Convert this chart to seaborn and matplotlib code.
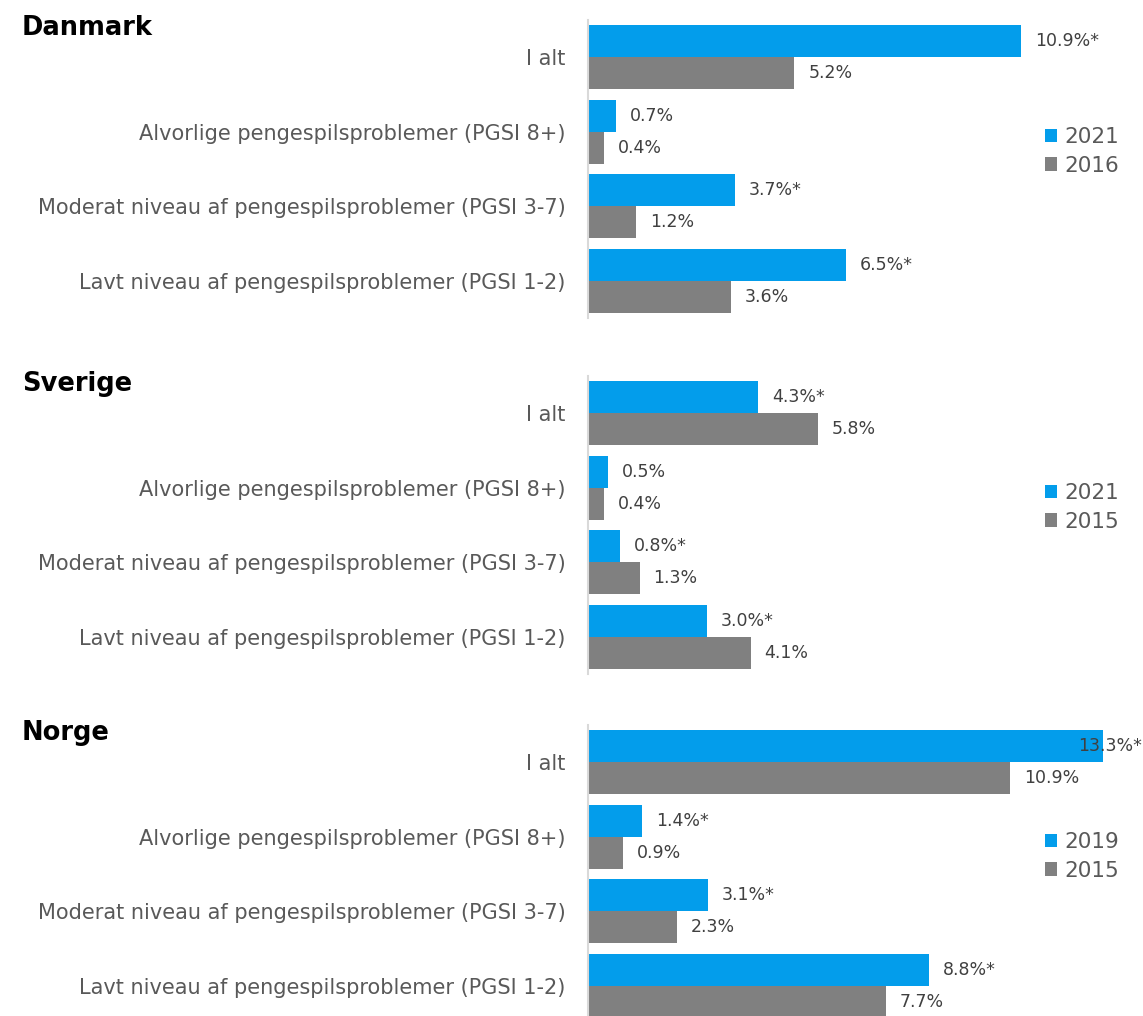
import matplotlib
matplotlib.use("Agg")
import matplotlib.pyplot as plt
import seaborn as sns
import pandas as pd
import numpy as np
from matplotlib.patches import Patch

categories = [
    "I alt",
    "Alvorlige pengespilsproblemer (PGSI 8+)",
    "Moderat niveau af pengespilsproblemer (PGSI 3-7)",
    "Lavt niveau af pengespilsproblemer (PGSI 1-2)",
]

dk_years = ["2021", "2016"]
dk_new = [10.9, 0.7, 3.7, 6.5]
dk_old = [5.2, 0.4, 1.2, 3.6]
dk_new_labels = ["10.9%*", "0.7%", "3.7%*", "6.5%*"]
dk_old_labels = ["5.2%", "0.4%", "1.2%", "3.6%"]

se_years = ["2021", "2015"]
se_new = [4.3, 0.5, 0.8, 3.0]
se_old = [5.8, 0.4, 1.3, 4.1]
se_new_labels = ["4.3%*", "0.5%", "0.8%*", "3.0%*"]
se_old_labels = ["5.8%", "0.4%", "1.3%", "4.1%"]

no_years = ["2019", "2015"]
no_new = [13.3, 1.4, 3.1, 8.8]
no_old = [10.9, 0.9, 2.3, 7.7]
no_new_labels = ["13.3%*", "1.4%*", "3.1%*", "8.8%*"]
no_old_labels = ["10.9%", "0.9%", "2.3%", "7.7%"]

countries = ["Danmark", "Sverige", "Norge"]

BLUE = "#039DEB"
GRAY = "#808080"
LABEL_C = "#595959"
VAL_C = "#404040"
SPINE_C = "#D9D9D9"

W, H = 1143, 1016
sns.set_style("white")
plt.rcParams['font.family'] = ['DejaVu Sans']
fig = plt.figure(figsize=(W / 100, H / 100), dpi=100)

panels = [
    ("Danmark", dk_years, dk_new, dk_old, dk_new_labels, dk_old_labels, 20, 13.98),
    ("Sverige", se_years, se_new, se_old, se_new_labels, se_old_labels, 376, 14.0),
    ("Norge", no_years, no_new, no_old, no_new_labels, no_old_labels, 725, 14.34),
]

ax_left = 588
ax_right = 1143
ax_h = 298

for name, years, new, old, new_lab, old_lab, top, xmax in panels:
    ax = fig.add_axes([ax_left / W, 1 - (top + ax_h) / H, (ax_right - ax_left) / W, ax_h / H])
    df = pd.DataFrame({
        "Kategori": categories * 2,
        "Andel": list(new) + list(old),
        "År": [years[0]] * 4 + [years[1]] * 4,
    })
    sns.barplot(data=df, y="Kategori", x="Andel", hue="År", hue_order=years,
                order=categories, palette=[BLUE, GRAY], orient="h",
                width=0.86, ax=ax, legend=False, errorbar=None,
                saturation=1, linewidth=0)
    ax.set_xlim(0, xmax)
    ax.set_ylim(3.5, -0.5)
    ax.set_xlabel("")
    ax.set_ylabel("")
    ax.set_xticks([])
    for s in ["top", "right", "bottom"]:
        ax.spines[s].set_visible(False)
    ax.spines["left"].set_color(SPINE_C)
    ax.spines["left"].set_linewidth(1.5)
    ax.set_yticks(range(4))
    ax.set_yticklabels(categories, fontsize=15, color=LABEL_C)
    ax.tick_params(axis="y", which="major", length=0, pad=16)
    ax.set_yticks([-0.5, 0.5, 1.5, 2.5, 3.5], minor=True)
    ax.tick_params(axis="y", which="minor", length=5, width=1.5, color=SPINE_C, direction="out")

    px_per_unit = (ax_right - ax_left) / xmax
    for cont, labs in zip(ax.containers, [new_lab, old_lab]):
        for bar, lab in zip(cont, labs):
            val = bar.get_width()
            yc = bar.get_y() + bar.get_height() / 2
            endpx = val * px_per_unit + 14
            if endpx + 62 > (ax_right - ax_left):
                ax.annotate(lab, xy=(1.0, yc), xycoords=("axes fraction", "data"),
                            xytext=(-1.5, 0), textcoords="offset pixels",
                            ha="right", va="center", fontsize=12.5, color=VAL_C)
            else:
                ax.annotate(lab, xy=(val, yc), xytext=(14, 0), textcoords="offset pixels",
                            ha="left", va="center", fontsize=12.5, color=VAL_C)

    handles = [Patch(facecolor=BLUE, edgecolor="none"), Patch(facecolor=GRAY, edgecolor="none")]
    leg = ax.legend(handles, years, loc="upper left",
                    bbox_to_anchor=((1045 - ax_left) / (ax_right - ax_left), 1 - 107 / ax_h),
                    frameon=False, fontsize=15.5, handlelength=0.56, handleheight=0.56,
                    handletextpad=0.33, labelspacing=0.4, borderaxespad=0, borderpad=0)
    for t in leg.get_texts():
        t.set_color(LABEL_C)

    fig.text(22 / W, 1 - (top + 8) / H, name, fontsize=18.5, fontweight="bold",
             color="black", ha="left", va="center")

fig.savefig("out.png", dpi=100)
